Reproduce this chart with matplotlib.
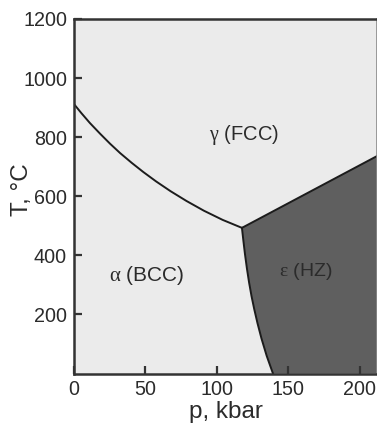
import matplotlib
matplotlib.use("Agg")
import matplotlib.pyplot as plt

plt.rcParams['font.family'] = ['Liberation Sans', 'DejaVu Sans']
plt.rcParams['mathtext.fontset'] = 'custom'
plt.rcParams['mathtext.it'] = 'Liberation Serif'
plt.rcParams['mathtext.rm'] = 'Liberation Sans'

# alpha/gamma boundary (p in kbar, T in degC)
ag_p = [0, 5.05, 11.1, 18.2, 25.2, 32.3, 40.4, 48.5, 57.5, 67.6, 78.7, 90.9, 104.0, 117.5]
ag_T = [912, 882, 848, 812, 778, 746, 713, 682, 650, 617, 584, 551, 520, 493]
# alpha/epsilon boundary
ae_p = [117.5, 118.5, 119.6, 121.0, 122.5, 124.2, 126.1, 128.4, 131.2, 134.8, 139.2]
ae_T = [493, 450, 405, 355, 308, 262, 218, 170, 118, 60, 0]
# gamma/epsilon boundary
ge_p = [117.5, 212.0]
ge_T = [493, 736]

x_ticks = [0, 50, 100, 150, 200]
y_ticks = [200, 400, 600, 800, 1000, 1200]
p_max = 212
T_max = 1200

phase_labels = ["$\\alpha$ (BCC)", "$\\gamma$ (FCC)", "$\\varepsilon$ (HZ)"]
phase_p = [50.7, 119.0, 161.9]
phase_T = [333, 807, 344]
phase_size = [15, 14.5, 14]

bg = '#ebebeb'
dark = '#5f5f5f'
line_c = '#1c1c1c'
text_c = '#2b2b2b'

fig = plt.figure(figsize=(3.77, 4.29), dpi=100)
ax = fig.add_axes([74/377, 1 - 373.5/429, 303/377, 354.5/429])
ax.set_facecolor(bg)

# epsilon region
eps_p = ae_p + [p_max, p_max]
eps_T = ae_T + [0, ge_T[-1]]
ax.fill(eps_p, eps_T, color=dark, lw=0)

ax.plot(ag_p, ag_T, color=line_c, lw=1.4)
ax.plot(ae_p, ae_T, color=line_c, lw=1.4)
ax.plot(ge_p, ge_T, color=line_c, lw=1.4)

for s, px, py, fs in zip(phase_labels, phase_p, phase_T, phase_size):
    ax.text(px, py, s, ha='center', va='center', fontsize=fs, color=text_c)

ax.set_xlim(0, p_max)
ax.set_ylim(0, T_max)
ax.set_xticks(x_ticks)
ax.set_yticks(y_ticks)
ax.tick_params(direction='in', length=6, width=1.6, color='#333333',
               labelsize=14.2, labelcolor=text_c)
ax.tick_params(axis='x', pad=5)
ax.tick_params(axis='y', pad=5)
for side in ['left', 'bottom', 'top']:
    ax.spines[side].set_linewidth(1.8)
    ax.spines[side].set_color('#333333')
ax.spines['right'].set_linewidth(1.2)
ax.spines['right'].set_color('#8a8a8a')

ax.set_xlabel('p, kbar', fontsize=17.5, color=text_c, labelpad=0)
ax.set_ylabel('T, °C', fontsize=17.5, color=text_c, labelpad=0)
ax.xaxis.set_label_coords(0.5, -0.077)
ax.yaxis.set_label_coords(-0.135, 0.52)

fig.savefig('out.png', dpi=100)
